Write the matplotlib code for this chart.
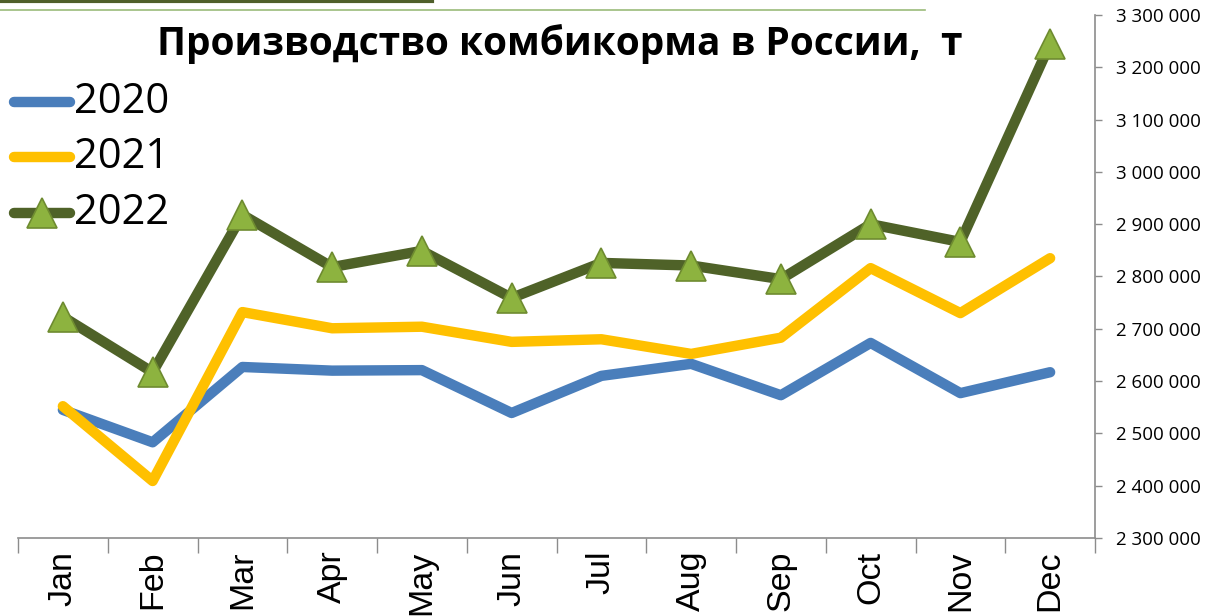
import matplotlib
matplotlib.use("Agg")
import matplotlib.pyplot as plt
from matplotlib.ticker import FuncFormatter, FixedLocator
from matplotlib.lines import Line2D

months = ["Jan", "Feb", "Mar", "Apr", "May", "Jun", "Jul", "Aug", "Sep", "Oct", "Nov", "Dec"]
y2020 = [2545000, 2483000, 2627000, 2620000, 2621000, 2539000, 2610000, 2633000, 2573000, 2673000, 2577000, 2617000]
y2021 = [2552000, 2409000, 2732000, 2701000, 2704000, 2675000, 2680000, 2652000, 2683000, 2816000, 2730000, 2835000]
y2022 = [2723000, 2617000, 2918000, 2818000, 2849000, 2759000, 2826000, 2821000, 2795000, 2900000, 2866000, 3245000]
series_labels = ["2020", "2021", "2022"]
title = "Производство комбикорма в России,  т"
yticks = list(range(2300000, 3300001, 100000))

W, H = 1230, 616
fig = plt.figure(figsize=(W / 100, H / 100), dpi=100)
ax = fig.add_axes([18 / W, 1 - 538 / H, (1095 - 18) / W, (538 - 15) / H])

x = list(range(len(months)))
c_blue, c_yellow, c_green = "#4a7ebb", "#ffc000", "#4f6228"
lw = 7.5
ax.plot(x, y2020, color=c_blue, lw=lw, solid_capstyle="round", solid_joinstyle="round", zorder=2)
ax.plot(x, y2021, color=c_yellow, lw=lw, solid_capstyle="round", solid_joinstyle="round", zorder=3)
ax.plot(x, y2022, color=c_green, lw=lw, solid_joinstyle="round", zorder=4,
        marker="^", markersize=21, markerfacecolor="#8db33f", markeredgecolor="#6e8b30", markeredgewidth=1.2)

ax.set_xlim(-0.5, len(months) - 0.5)
ax.set_ylim(2300000, 3300000)

ax.yaxis.tick_right()
ax.set_yticks(yticks)
ax.yaxis.set_major_formatter(FuncFormatter(lambda v, p: f"{int(v):,}".replace(",", " ")))
ax.tick_params(axis="y", direction="out", length=5, width=1, color="#8c8c8c", pad=10,
               labelsize=13.5, labelcolor="black")
for t in ax.get_yticklabels():
    t.set_fontfamily("Open Sans")

ax.set_xticks(x)
ax.set_xticklabels(months, rotation=90, fontsize=24.5, fontfamily="Liberation Sans")
ax.tick_params(axis="x", which="major", length=0, pad=9)
ax.xaxis.set_minor_locator(FixedLocator([i - 0.5 for i in range(len(months) + 1)]))
ax.tick_params(axis="x", which="minor", length=11, width=1, color="#8c8c8c", direction="out")

for s in ["top", "left"]:
    ax.spines[s].set_visible(False)
for s in ["right", "bottom"]:
    ax.spines[s].set_color("#8c8c8c")
    ax.spines[s].set_linewidth(1.2)

# title
fig.text(560 / W, 1 - 44 / H, title, ha="center", va="center", fontsize=28,
         fontweight="bold", fontfamily="Open Sans", color="black")

# legend (manual)
leg_rows = [(c_blue, None), (c_yellow, None), (c_green, "^")]
leg_y = [102, 157, 213]
for (col, mk), yy, lab in zip(leg_rows, leg_y, series_labels):
    yf = 1 - yy / H
    ln = Line2D([14 / W, 70 / W], [yf, yf], transform=fig.transFigure, color=col, lw=lw,
                solid_capstyle="round")
    fig.add_artist(ln)
    if mk:
        mk_ln = Line2D([42 / W], [yf], transform=fig.transFigure, marker="^", markersize=21,
                       markerfacecolor="#8db33f", markeredgecolor="#6e8b30", markeredgewidth=1.2, lw=0)
        fig.add_artist(mk_ln)
    fig.text(74 / W, yf, lab, ha="left", va="center", fontsize=30, fontfamily="Open Sans", color="black")

# top decorations
fig.add_artist(Line2D([0, 432 / W], [1 - 1 / H, 1 - 1 / H], transform=fig.transFigure,
                      color="#4f5f2a", lw=3))
fig.add_artist(Line2D([0, 925 / W], [1 - 10 / H, 1 - 10 / H], transform=fig.transFigure,
                      color="#9bbb7a", lw=1.2))

fig.savefig("out.png", dpi=100)
